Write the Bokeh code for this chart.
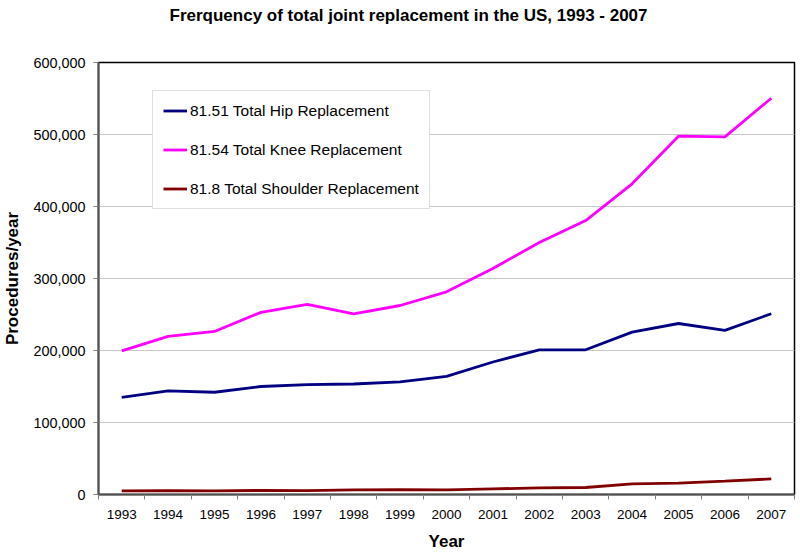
from bokeh.plotting import figure
from bokeh.models import (ColumnDataSource, FixedTicker, NumeralTickFormatter,
                          Range1d, Legend, LegendItem, Title)
from bokeh.embed import file_html
from bokeh.resources import INLINE

years = [1993, 1994, 1995, 1996, 1997, 1998, 1999, 2000, 2001, 2002, 2003, 2004, 2005, 2006, 2007]
hip = [135000, 144000, 142000, 150000, 152500, 153500, 156500, 164000, 184000, 201000, 201000, 225500, 237500, 228000, 251000]
knee = [199500, 219500, 226500, 253000, 264000, 251000, 262500, 281500, 314000, 350000, 380500, 431500, 497700, 496800, 550400]
shoulder = [5000, 5200, 5100, 5600, 5500, 6500, 6700, 6300, 7800, 9200, 9700, 14800, 15700, 18500, 21700]
series_names = ["81.51 Total Hip Replacement", "81.54 Total Knee Replacement", "81.8 Total Shoulder Replacement"]
series_colors = ["#000080", "#ff00ff", "#800000"]
y_ticks = [0, 100000, 200000, 300000, 400000, 500000, 600000]
title_text = "Frerquency of total joint replacement in the US, 1993 - 2007"

FONT = "Liberation Sans"

idx = list(range(1, len(years) + 1))
src = ColumnDataSource(dict(x=idx, hip=hip, knee=knee, shoulder=shoulder))

p = figure(width=800, height=554, output_backend="svg", toolbar_location=None,
           x_range=Range1d(0.5, len(years) + 0.5), y_range=Range1d(0, 600000),
           min_border_left=96, min_border_right=6, min_border_top=62, min_border_bottom=60)
p.title = Title(text=title_text, align="left", offset=71, standoff=0, text_font=FONT,
                text_font_size="17px", text_font_style="bold", text_color="black")
# blank spacer between the title and the plot frame
p.add_layout(Title(text=" ", text_font=FONT, text_font_size="32px", standoff=0), "above")

p.background_fill_color = "white"
p.border_fill_color = "white"
p.outline_line_color = "black"
p.outline_line_width = 1.5

renderers = []
for col, color in zip(["hip", "knee", "shoulder"], series_colors):
    r = p.line("x", col, source=src, line_color=color, line_width=2.8)
    renderers.append(r)

legend = Legend(items=[LegendItem(label=n, renderers=[r]) for n, r in zip(series_names, renderers)],
                location=(54, 285), padding=10, spacing=20, glyph_width=24, glyph_height=19,
                label_height=19, label_standoff=3, label_text_font=FONT, label_text_font_size="15.5px",
                label_text_color="black", border_line_color="#c0c0c0", border_line_width=1,
                background_fill_color="white", background_fill_alpha=1.0, margin=0)
p.add_layout(legend, "center")

# x axis
xa = p.xaxis[0]
xa.ticker = FixedTicker(ticks=idx, minor_ticks=[i + 0.5 for i in range(0, len(years) + 1)])
xa.major_label_overrides = {i: str(y) for i, y in zip(idx, years)}
xa.major_tick_line_color = None
xa.major_tick_out = 0
xa.major_tick_in = 0
xa.minor_tick_line_color = "#808080"
xa.minor_tick_out = 5
xa.minor_tick_in = 0
xa.axis_line_color = "#505050"
xa.axis_line_width = 2
xa.major_label_text_font = FONT
xa.major_label_text_font_size = "13.5px"
xa.major_label_text_color = "black"
xa.major_label_standoff = 10
xa.axis_label = "Year"
xa.axis_label_text_font = FONT
xa.axis_label_text_font_size = "17px"
xa.axis_label_text_font_style = "bold"
xa.axis_label_text_color = "black"
xa.axis_label_standoff = 10

# y axis
ya = p.yaxis[0]
ya.ticker = FixedTicker(ticks=y_ticks)
ya.formatter = NumeralTickFormatter(format="0,0")
ya.major_tick_line_color = "#808080"
ya.major_tick_out = 5
ya.major_tick_in = 0
ya.minor_tick_line_color = None
ya.axis_line_color = "#505050"
ya.axis_line_width = 2
ya.major_label_text_font = FONT
ya.major_label_text_font_size = "14.4px"
ya.major_label_text_color = "black"
ya.major_label_standoff = 8
ya.axis_label = "Procedures/year"
ya.axis_label_text_font = FONT
ya.axis_label_text_font_size = "17px"
ya.axis_label_text_font_style = "bold"
ya.axis_label_text_color = "black"
ya.axis_label_standoff = 8

p.xgrid.grid_line_color = None
p.ygrid.grid_line_color = "#c8c8c8"
p.ygrid.grid_line_width = 1
p.ygrid.ticker = FixedTicker(ticks=y_ticks)

open("out.html", "w").write(file_html(p, INLINE))
